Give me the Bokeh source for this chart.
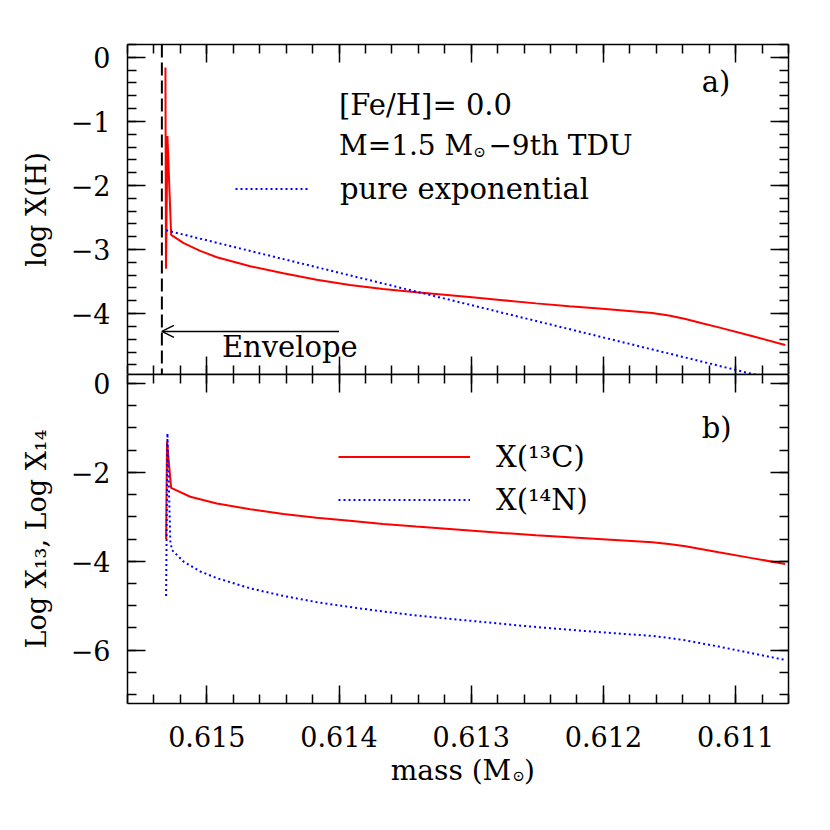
from bokeh.plotting import figure
from bokeh.layouts import column
from bokeh.models import (Range1d, LinearAxis, SingleIntervalTicker, CustomJSTickFormatter,
                          Label, Arrow, OpenHead, Span, Legend, LegendItem)
from bokeh.embed import file_html
from bokeh.resources import INLINE

FONT = "DejaVu Serif"

# ---------------- data ----------------
# panel a) log X(H) profile
mass_h = [0.615313, 0.615309, 0.615298, 0.615270, 0.615175, 0.615050, 0.614924,
          0.614672, 0.614421, 0.614169, 0.613918, 0.613667, 0.613415, 0.613013,
          0.612762, 0.612510, 0.612259, 0.612008, 0.611631, 0.611505, 0.611379,
          0.611254, 0.611128, 0.610877, 0.610625]
log_xh = [-0.16, -3.30, -1.23, -2.77, -2.90, -3.02, -3.12,
          -3.26, -3.37, -3.47, -3.555, -3.615, -3.665, -3.74,
          -3.79, -3.84, -3.885, -3.925, -3.99, -4.03, -4.085,
          -4.15, -4.215, -4.35, -4.49]
# pure exponential
mass_exp = [0.615308, 0.610600]
log_exp = [-2.70, -5.08]

# panel b) 13C and 14N
mass_c13 = [0.615308, 0.615301, 0.615270, 0.615125, 0.614924, 0.614672, 0.614421,
            0.614169, 0.613918, 0.613667, 0.613415, 0.613013, 0.612762, 0.612510,
            0.612259, 0.612008, 0.611631, 0.611505, 0.611379, 0.611254, 0.611128,
            0.610877, 0.610625]
log_c13 = [-3.50, -1.31, -2.35, -2.55, -2.70, -2.83, -2.94,
           -3.02, -3.09, -3.16, -3.22, -3.31, -3.365, -3.415,
           -3.46, -3.505, -3.575, -3.615, -3.665, -3.73, -3.80,
           -3.93, -4.06]
mass_n14 = [0.615308, 0.615298, 0.615276, 0.615263, 0.615175, 0.615050, 0.614924,
            0.614672, 0.614421, 0.614169, 0.613918, 0.613667, 0.613415, 0.613038,
            0.612762, 0.612510, 0.612259, 0.612008, 0.611631, 0.611505, 0.611379,
            0.611254, 0.611128, 0.610877, 0.610625]
log_n14 = [-4.78, -1.12, -3.55, -3.75, -4.01, -4.23, -4.38,
           -4.61, -4.78, -4.92, -5.03, -5.13, -5.22, -5.33,
           -5.41, -5.48, -5.54, -5.60, -5.68, -5.725, -5.78,
           -5.85, -5.92, -6.07, -6.22]

envelope_edge = 0.61534
envelope_arrow_from = 0.61400
envelope_arrow_y = -4.277

# ---------------- styling helpers ----------------
x_range = Range1d(0.6156, 0.6106)

x_ticker = SingleIntervalTicker(interval=0.001, num_minor_ticks=5)
ya_ticker = SingleIntervalTicker(interval=1, num_minor_ticks=5)
yb_ticker = SingleIntervalTicker(interval=2, num_minor_ticks=4)
x_fmt = CustomJSTickFormatter(code="return tick.toFixed(3);")
y_fmt = CustomJSTickFormatter(code="return (tick < -1e-9 ? '\\u2212' : '') + Math.abs(tick).toFixed(0);")
blank_fmt = CustomJSTickFormatter(code="return '';")

TICK_FONT = "27px"
TEXT_FONT = "29px"


def style_axis(ax, ticker, fmt, labels, standoff=12):
    ax.ticker = ticker
    ax.major_tick_in = 18
    ax.major_tick_out = 0
    ax.minor_tick_in = 9
    ax.minor_tick_out = 0
    ax.axis_line_width = 1.5
    ax.major_tick_line_width = 1.5
    ax.minor_tick_line_width = 1.5
    ax.axis_line_color = "black"
    ax.major_tick_line_color = "black"
    ax.minor_tick_line_color = "black"
    if labels:
        ax.formatter = fmt
        ax.major_label_text_font = FONT
        ax.major_label_text_font_size = TICK_FONT
        ax.major_label_text_color = "black"
        ax.major_label_standoff = standoff
    else:
        ax.formatter = blank_fmt
        ax.major_label_text_font_size = "0px"
        ax.major_label_standoff = 0


def make_fig(height, y_range, top, bottom, axes=True):
    kw = {} if axes else dict(x_axis_location=None, y_axis_location=None)
    p = figure(width=808, height=height, x_range=x_range, y_range=y_range,
               output_backend="svg", toolbar_location=None,
               min_border_left=127, min_border_right=20,
               min_border_top=top, min_border_bottom=bottom,
               background_fill_color="white", border_fill_color=None, **kw)
    p.outline_line_color = None
    p.xgrid.visible = False
    p.ygrid.visible = False
    return p


def txt(p, x, y, s, size=TEXT_FONT, align="left"):
    p.add_layout(Label(x=x, y=y, text=s,
                       text_font=FONT, text_font_size=size, text_color="black",
                       text_align=align, text_baseline="alphabetic"))


def ylabel(ax, s):
    ax.axis_label = s
    ax.axis_label_text_font = FONT
    ax.axis_label_text_font_size = "27px"
    ax.axis_label_text_font_style = "normal"
    ax.axis_label_text_color = "black"
    ax.axis_label_standoff = 16


# ---------------- panel a ----------------
p1 = make_fig(374, Range1d(-4.95, 0.2), 44, 0)
style_axis(p1.xaxis[0], x_ticker, x_fmt, False)
style_axis(p1.yaxis[0], ya_ticker, y_fmt, True, standoff=17)
ylabel(p1.yaxis[0], "log X(H)")
ax_top = LinearAxis()
style_axis(ax_top, x_ticker, x_fmt, False)
p1.add_layout(ax_top, "above")
ax_right = LinearAxis()
style_axis(ax_right, ya_ticker, y_fmt, False)
p1.add_layout(ax_right, "right")

p1.line(mass_h, log_xh, line_color="#ff0000", line_width=2)
r_exp = p1.line(mass_exp, log_exp, line_color="#0000ff", line_width=2, line_dash="2 3")

p1.add_layout(Span(location=envelope_edge, dimension="height", line_color="black",
                   line_width=2, line_dash="13 5"))
p1.add_layout(Arrow(end=OpenHead(size=12, line_width=1.5, line_color="black"),
                    x_start=envelope_arrow_from, y_start=envelope_arrow_y,
                    x_end=envelope_edge, y_end=envelope_arrow_y,
                    line_width=1.5, line_color="black"))

txt(p1, 0.614886, -4.52, "Envelope")
txt(p1, 0.614000, -0.74, "[Fe/H]= 0.0")
txt(p1, 0.614000, -1.38, "M=1.5 M", size="28px")
txt(p1, 0.612984, -1.47, "\u2299", size="15px")
txt(p1, 0.612870, -1.38, "\u22129th TDU", size="28px")
txt(p1, 0.611256, -0.39, "a)")

leg1 = Legend(items=[LegendItem(label="pure exponential", renderers=[r_exp])],
              location=(108, 164), glyph_width=75, glyph_height=43, label_height=43,
              label_standoff=30, padding=0, margin=0, spacing=0,
              border_line_color=None, background_fill_alpha=0,
              label_text_font=FONT, label_text_font_size=TEXT_FONT,
              label_text_color="black")
p1.add_layout(leg1)

# ---------------- panel b ----------------
p2 = make_fig(405, Range1d(-7.2, 0.2), 20, 56)
p2.styles = {"transform": "translateY(-20px)"}
style_axis(p2.xaxis[0], x_ticker, x_fmt, True, standoff=22)
style_axis(p2.yaxis[0], yb_ticker, y_fmt, True, standoff=17)
ylabel(p2.yaxis[0], "Log X\u2081\u2083, Log X\u2081\u2084")
ax_top2 = LinearAxis()
style_axis(ax_top2, x_ticker, x_fmt, False)
p2.add_layout(ax_top2, "above")
ax_right2 = LinearAxis()
style_axis(ax_right2, yb_ticker, y_fmt, False)
p2.add_layout(ax_right2, "right")

r_c13 = p2.line(mass_c13, log_c13, line_color="#ff0000", line_width=2)
r_n14 = p2.line(mass_n14, log_n14, line_color="#0000ff", line_width=2, line_dash="2 3")

txt(p2, 0.611256, -1.00, "b)")

leg2 = Legend(items=[LegendItem(label="X(\u00b9\u00b3C)", renderers=[r_c13]),
                     LegendItem(label="X(\u00b9\u2074N)", renderers=[r_n14])],
              location=(211, 182), glyph_width=132, glyph_height=43, label_height=43,
              label_standoff=26, padding=0, margin=0, spacing=0,
              border_line_color=None, background_fill_alpha=0,
              label_text_font=FONT, label_text_font_size=TEXT_FONT,
              label_text_color="black")
p2.add_layout(leg2)

# ---------------- x-axis title strip (subscript sun symbol) ----------------
p3 = make_fig(60, Range1d(0, 1), 0, 0, axes=False)
p3.background_fill_color = None
p3.styles = {"transform": "translateY(-40px)"}
txt(p3, 0.612697, 0.49, "mass (M", size="28px", align="right")
txt(p3, 0.612690, 0.39, "\u2299", size="15px")
txt(p3, 0.612600, 0.49, ")", size="28px")

layout = column(p1, p2, p3)
open("out.html", "w").write(file_html(layout, INLINE))
